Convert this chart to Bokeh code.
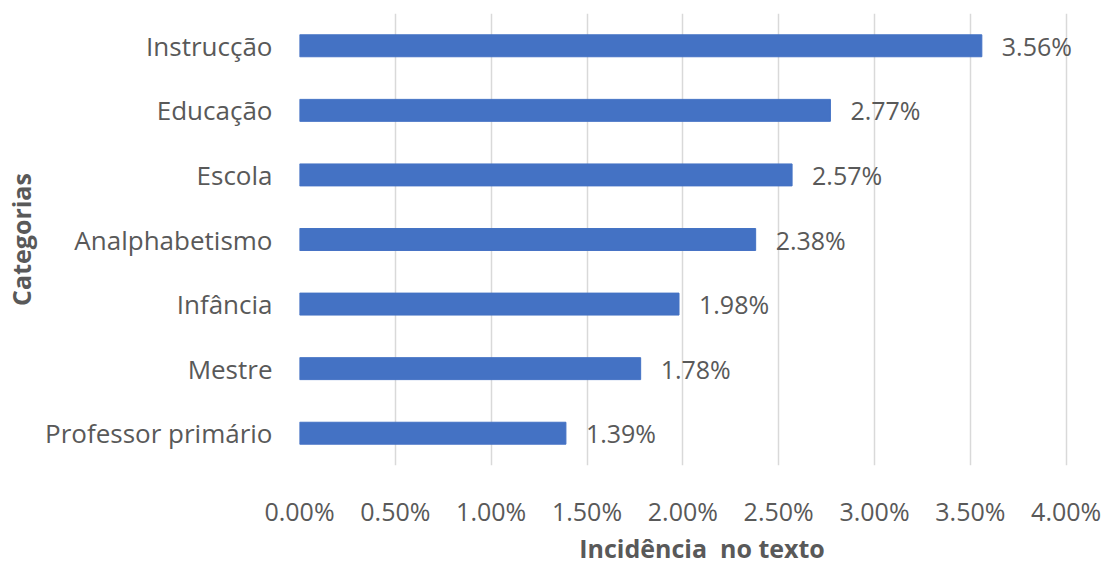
from bokeh.plotting import figure
from bokeh.models import ColumnDataSource, FactorRange, Range1d, FixedTicker, CustomJSTickFormatter, LabelSet
from bokeh.core.properties import value
from bokeh.embed import file_html
from bokeh.resources import INLINE

categories = ["Instrucção", "Educação", "Escola", "Analphabetismo", "Infância", "Mestre", "Professor primário"]
values = [3.56, 2.77, 2.57, 2.38, 1.98, 1.78, 1.39]
labels = ["3.56%", "2.77%", "2.57%", "2.38%", "1.98%", "1.78%", "1.39%"]
ticks = [0.0, 0.5, 1.0, 1.5, 2.0, 2.5, 3.0, 3.5, 4.0]

FONT = "Open Sans"
GRAY = "#595959"

src = ColumnDataSource(dict(cat=categories, val=values, lab=labels))

p = figure(width=1107, height=567, output_backend="svg", toolbar_location=None,
           y_range=FactorRange(factors=list(reversed(categories)), range_padding=0),
           x_range=Range1d(0, 4.2),
           min_border_left=299, min_border_right=3, min_border_top=13, min_border_bottom=100)
p.outline_line_color = None
p.background_fill_color = "white"

p.hbar(y="cat", right="val", left=0, height=0.34, source=src,
       fill_color="#4472C4", line_color="#4472C4")

ls = LabelSet(x="val", y="cat", text="lab", source=src, x_offset=20, y_offset=0,
              text_baseline="middle", text_font=value(FONT), text_font_size="25px", text_color=GRAY)
p.add_layout(ls)

p.xaxis.ticker = FixedTicker(ticks=ticks)
p.xaxis.formatter = CustomJSTickFormatter(code="return tick.toFixed(2) + '%';")
p.xaxis.axis_line_color = None
p.xaxis.major_tick_line_color = None
p.xaxis.minor_tick_line_color = None
p.xaxis.major_tick_out = 0
p.xaxis.major_tick_in = 0
p.xaxis.minor_tick_out = 0
p.xaxis.major_label_standoff = 28
p.xaxis.major_label_text_font = FONT
p.xaxis.major_label_text_font_size = "25px"
p.xaxis.major_label_text_color = GRAY
p.xaxis.axis_label = "Incidência\u00a0 no texto"
p.xaxis.axis_label_text_font = FONT
p.xaxis.axis_label_text_font_size = "25px"
p.xaxis.axis_label_text_font_style = "bold"
p.xaxis.axis_label_text_color = GRAY
p.xaxis.axis_label_standoff = 0

p.yaxis.axis_line_color = None
p.yaxis.major_tick_line_color = None
p.yaxis.minor_tick_line_color = None
p.yaxis.major_tick_out = 0
p.yaxis.major_tick_in = 0
p.yaxis.minor_tick_out = 0
p.yaxis.major_label_standoff = 27
p.yaxis.major_label_text_font = FONT
p.yaxis.major_label_text_font_size = "26px"
p.yaxis.major_label_text_color = GRAY
p.yaxis.axis_label = "Categorias"
p.yaxis.axis_label_text_font = FONT
p.yaxis.axis_label_text_font_size = "25px"
p.yaxis.axis_label_text_font_style = "bold"
p.yaxis.axis_label_text_color = GRAY
p.yaxis.axis_label_standoff = 4

p.xgrid.ticker = FixedTicker(ticks=ticks)
p.xgrid.grid_line_color = "#d9d9d9"
p.xgrid.grid_line_width = 1.5
p.ygrid.grid_line_color = None

open("out.html", "w").write(file_html(p, INLINE))
